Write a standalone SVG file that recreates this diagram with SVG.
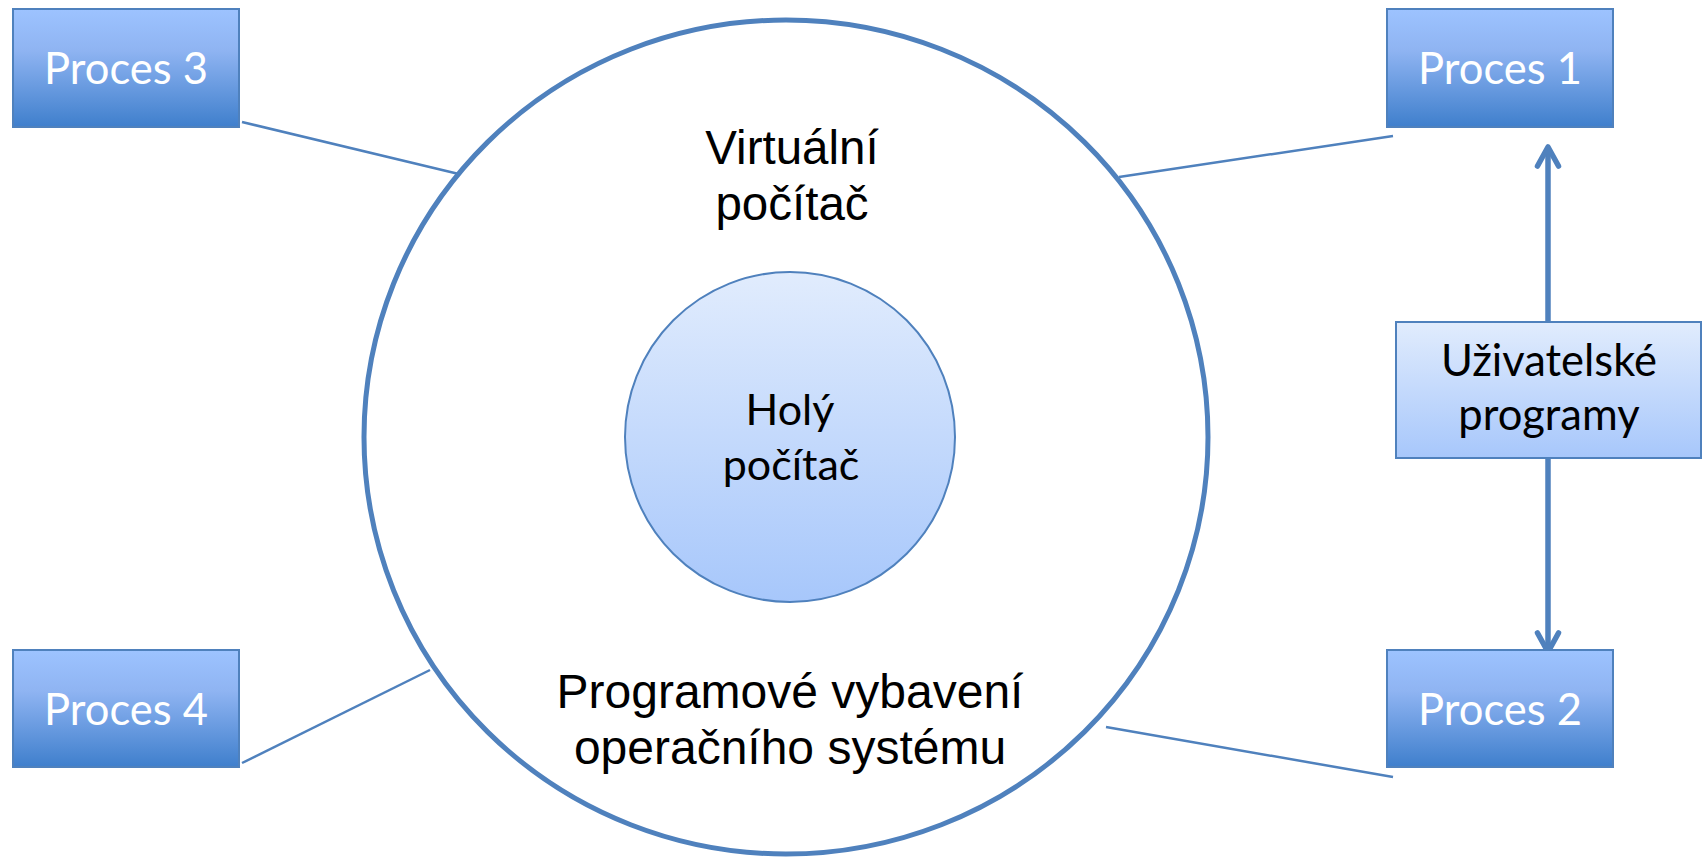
<svg xmlns="http://www.w3.org/2000/svg" width="1704" height="857" viewBox="0 0 1704 857">
  <defs>
    <linearGradient id="gDark" x1="0" y1="0" x2="0" y2="1">
      <stop offset="0" stop-color="#9dc3ff"/>
      <stop offset="0.35" stop-color="#8fb4f2"/>
      <stop offset="1" stop-color="#3f7fcc"/>
    </linearGradient>
    <linearGradient id="gLight" x1="0" y1="0" x2="0" y2="1">
      <stop offset="0" stop-color="#e1ecfd"/>
      <stop offset="1" stop-color="#a7c7fb"/>
    </linearGradient>
    <marker id="chev" markerUnits="userSpaceOnUse" markerWidth="40" markerHeight="40" viewBox="-30 -20 40 40" refX="0" refY="0" orient="auto-start-reverse" overflow="visible">
      <path d="M -19 -10.5 L 0 0 L -19 10.5" fill="none" stroke="#4f81bd" stroke-width="5.5" stroke-linecap="round" stroke-linejoin="round"/>
    </marker>
  </defs>
  <style>
    .proc rect { fill: url(#gDark); stroke: #4f81bd; stroke-width: 2; }
    .proc text { fill: #ffffff; font-family: Lato, "Open Sans", sans-serif; font-size: 43.5px; text-anchor: middle; }
    .calibri { font-family: Lato, "Open Sans", sans-serif; fill: #000000; text-anchor: middle; }
    .arial { font-family: "Liberation Sans", Arial, sans-serif; fill: #000000; text-anchor: middle; }
    .conn { stroke: #4f81bd; stroke-width: 2.5; fill: none; }
  </style>
  <rect width="1704" height="857" fill="#ffffff"/>

  <g id="connectors">
    <line class="conn" x1="242" y1="122" x2="463" y2="175"/>
    <line class="conn" x1="1119" y1="177" x2="1393" y2="136"/>
    <line class="conn" x1="1106" y1="727" x2="1393" y2="777"/>
    <line class="conn" x1="242" y1="763" x2="430" y2="670"/>
    <line x1="1548" y1="147" x2="1548" y2="652" stroke="#4f81bd" stroke-width="5.5" marker-start="url(#chev)" marker-end="url(#chev)"/>
  </g>

  <g id="virtual-computer">
    <ellipse cx="786" cy="437" rx="422" ry="417" fill="#ffffff" stroke="#4f81bd" stroke-width="5"/>
    <text class="arial" font-size="47.5" x="792" y="164">Virtuální</text>
    <text class="arial" font-size="47.5" x="792" y="220">počítač</text>
    <text class="arial" font-size="48" x="790" y="708">Programové vybavení</text>
    <text class="arial" font-size="48" x="790" y="764">operačního systému</text>
  </g>

  <g id="bare-computer">
    <circle cx="790" cy="437" r="165" fill="url(#gLight)" stroke="#4f81bd" stroke-width="2"/>
    <text class="calibri" font-size="43" x="790" y="425">Holý</text>
    <text class="calibri" font-size="43" x="791" y="480">počítač</text>
  </g>

  <g id="proces3" class="proc">
    <rect x="13" y="9" width="226" height="118"/>
    <text x="126" y="84">Proces 3</text>
  </g>
  <g id="proces1" class="proc">
    <rect x="1387" y="9" width="226" height="118"/>
    <text x="1500" y="84">Proces 1</text>
  </g>
  <g id="proces4" class="proc">
    <rect x="13" y="650" width="226" height="117"/>
    <text x="126" y="725">Proces 4</text>
  </g>
  <g id="proces2" class="proc">
    <rect x="1387" y="650" width="226" height="117"/>
    <text x="1500" y="725">Proces 2</text>
  </g>

  <g id="user-programs">
    <rect x="1396" y="322" width="305" height="136" fill="url(#gLight)" stroke="#4f81bd" stroke-width="2"/>
    <text class="calibri" font-size="43.5" x="1549" y="376">Uživatelské</text>
    <text class="calibri" font-size="43.5" x="1549" y="430">programy</text>
  </g>
</svg>
